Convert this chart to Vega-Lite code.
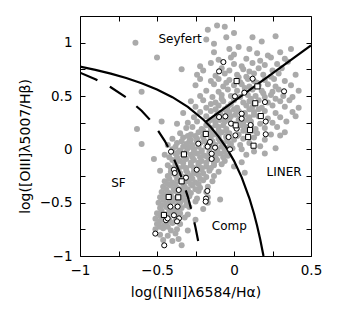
{
"$schema": "https://vega.github.io/schema/vega-lite/v6.json",
"width": 231, "height": 240,
"autosize": {"type": "none"},
"padding": {"left": 80, "top": 16, "right": 33, "bottom": 60},
"background": "white",
"config": {
  "view": {"stroke": null},
  "axis": {"domainColor": "black", "domainWidth": 1, "tickColor": "black", "tickWidth": 1, "labelColor": "black", "titleColor": "black", "labelFont": "DejaVu Sans", "titleFont": "DejaVu Sans", "labelFontSize": 13.5, "titleFontSize": 14, "titleFontWeight": "normal", "grid": false, "tickSize": -5, "labelFlush": false, "labelOverlap": false}
},
"datasets": {
"gray": [
{"x":-0.11,"y":1.16},{"x":-0.17,"y":1.12},{"x":-0.06,"y":1.15},{"x":0.0,"y":1.09},
{"x":-0.18,"y":1.03},{"x":-0.05,"y":1.05},{"x":0.12,"y":1.05},{"x":0.27,"y":1.06},
{"x":-0.64,"y":1.0},{"x":-0.13,"y":0.99},{"x":0.18,"y":1.01},
{"x":-0.03,"y":0.94},{"x":0.03,"y":0.96},{"x":0.1,"y":0.94},{"x":0.37,"y":0.94},
{"x":-0.13,"y":0.91},{"x":0.0,"y":0.89},{"x":0.15,"y":0.9},{"x":0.22,"y":0.88},{"x":0.3,"y":0.91},
{"x":-0.5,"y":0.86},{"x":-0.1,"y":0.84},{"x":-0.02,"y":0.86},{"x":0.08,"y":0.85},{"x":0.17,"y":0.83},{"x":0.24,"y":0.86},{"x":0.33,"y":0.85},
{"x":-0.22,"y":0.78},{"x":-0.15,"y":0.81},{"x":0.0,"y":0.8},{"x":0.05,"y":0.78},{"x":0.12,"y":0.81},{"x":0.2,"y":0.79},{"x":0.28,"y":0.8},{"x":0.35,"y":0.82},
{"x":-0.34,"y":0.75},{"x":-0.2,"y":0.74},{"x":-0.08,"y":0.76},{"x":-0.03,"y":0.74},{"x":0.06,"y":0.75},{"x":0.1,"y":0.73},{"x":0.16,"y":0.76},{"x":0.25,"y":0.74},{"x":0.31,"y":0.76},
{"x":-0.24,"y":0.7},{"x":-0.12,"y":0.69},{"x":-0.06,"y":0.71},{"x":0.02,"y":0.7},{"x":0.08,"y":0.68},{"x":0.13,"y":0.71},{"x":0.19,"y":0.7},{"x":0.24,"y":0.68},{"x":0.29,"y":0.71},{"x":0.4,"y":0.7},
{"x":-0.22,"y":0.66},{"x":-0.15,"y":0.64},{"x":-0.1,"y":0.66},{"x":-0.03,"y":0.65},{"x":0.04,"y":0.63},{"x":0.09,"y":0.66},{"x":0.13,"y":0.64},{"x":0.2,"y":0.65},{"x":0.26,"y":0.66},{"x":0.33,"y":0.64},
{"x":-0.25,"y":0.6},{"x":-0.13,"y":0.61},{"x":-0.07,"y":0.59},{"x":0.0,"y":0.6},{"x":0.05,"y":0.61},{"x":0.1,"y":0.59},{"x":0.16,"y":0.6},{"x":0.22,"y":0.61},{"x":0.27,"y":0.59},{"x":0.37,"y":0.6},
{"x":-0.6,"y":0.54},{"x":-0.18,"y":0.55},{"x":-0.1,"y":0.54},{"x":-0.04,"y":0.56},{"x":0.02,"y":0.55},{"x":0.07,"y":0.54},{"x":0.12,"y":0.56},{"x":0.18,"y":0.55},{"x":0.25,"y":0.54},{"x":0.29,"y":0.56},{"x":0.42,"y":0.55},
{"x":-0.22,"y":0.5},{"x":-0.14,"y":0.49},{"x":-0.08,"y":0.51},{"x":-0.02,"y":0.5},{"x":0.04,"y":0.49},{"x":0.09,"y":0.51},{"x":0.14,"y":0.5},{"x":0.2,"y":0.49},{"x":0.24,"y":0.51},{"x":0.32,"y":0.5},{"x":0.38,"y":0.49},
{"x":-0.28,"y":0.45},{"x":-0.2,"y":0.46},{"x":-0.12,"y":0.44},{"x":-0.07,"y":0.45},{"x":0.0,"y":0.46},{"x":0.06,"y":0.44},{"x":0.1,"y":0.45},{"x":0.16,"y":0.46},{"x":0.22,"y":0.44},{"x":0.3,"y":0.45},{"x":0.36,"y":0.46},
{"x":-0.25,"y":0.4},{"x":-0.18,"y":0.39},{"x":-0.1,"y":0.41},{"x":-0.04,"y":0.4},{"x":0.02,"y":0.39},{"x":0.08,"y":0.41},{"x":0.12,"y":0.4},{"x":0.18,"y":0.39},{"x":0.25,"y":0.41},{"x":0.33,"y":0.4},{"x":0.42,"y":0.39},
{"x":-0.33,"y":0.34},{"x":-0.22,"y":0.35},{"x":-0.15,"y":0.36},{"x":-0.09,"y":0.34},{"x":-0.03,"y":0.35},{"x":0.03,"y":0.36},{"x":0.07,"y":0.34},{"x":0.13,"y":0.35},{"x":0.2,"y":0.36},{"x":0.27,"y":0.34},{"x":0.38,"y":0.35},
{"x":-0.26,"y":0.3},{"x":-0.18,"y":0.31},{"x":-0.13,"y":0.29},{"x":-0.08,"y":0.3},{"x":-0.02,"y":0.31},{"x":0.04,"y":0.29},{"x":0.1,"y":0.3},{"x":0.16,"y":0.31},{"x":0.22,"y":0.29},{"x":0.3,"y":0.3},{"x":0.4,"y":0.31},
{"x":-0.47,"y":0.26},{"x":-0.37,"y":0.24},{"x":-0.3,"y":0.25},{"x":-0.24,"y":0.26},{"x":-0.17,"y":0.24},{"x":-0.12,"y":0.25},{"x":-0.06,"y":0.26},{"x":0.0,"y":0.24},{"x":0.06,"y":0.25},{"x":0.11,"y":0.26},{"x":0.17,"y":0.24},{"x":0.25,"y":0.25},{"x":0.34,"y":0.26},
{"x":-0.63,"y":0.19},{"x":-0.31,"y":0.2},{"x":-0.27,"y":0.21},{"x":-0.21,"y":0.19},{"x":-0.15,"y":0.2},{"x":-0.1,"y":0.21},{"x":-0.05,"y":0.19},{"x":0.02,"y":0.2},{"x":0.08,"y":0.21},{"x":0.14,"y":0.19},{"x":0.2,"y":0.2},{"x":0.28,"y":0.21},
{"x":-0.35,"y":0.15},{"x":-0.28,"y":0.14},{"x":-0.23,"y":0.16},{"x":-0.18,"y":0.15},{"x":-0.13,"y":0.14},{"x":-0.08,"y":0.16},{"x":-0.03,"y":0.15},{"x":0.03,"y":0.14},{"x":0.09,"y":0.16},{"x":0.15,"y":0.15},{"x":0.24,"y":0.14},{"x":0.33,"y":0.16},
{"x":-0.4,"y":0.1},{"x":-0.33,"y":0.11},{"x":-0.28,"y":0.09},{"x":-0.24,"y":0.1},{"x":-0.2,"y":0.11},{"x":-0.15,"y":0.09},{"x":-0.1,"y":0.1},{"x":-0.05,"y":0.11},{"x":0.0,"y":0.09},{"x":0.06,"y":0.1},{"x":0.13,"y":0.11},{"x":0.2,"y":0.09},{"x":0.3,"y":0.13},
{"x":-0.6,"y":0.05},{"x":-0.43,"y":0.04},{"x":-0.37,"y":0.06},{"x":-0.31,"y":0.05},{"x":-0.27,"y":0.04},{"x":-0.22,"y":0.06},{"x":-0.17,"y":0.05},{"x":-0.12,"y":0.04},{"x":-0.07,"y":0.06},{"x":-0.02,"y":0.05},{"x":0.04,"y":0.04},{"x":0.1,"y":0.06},{"x":0.17,"y":0.03},
{"x":-0.4,"y":0.0},{"x":-0.35,"y":-0.01},{"x":-0.3,"y":0.01},{"x":-0.26,"y":0.0},{"x":-0.21,"y":-0.01},{"x":-0.16,"y":0.01},{"x":-0.11,"y":0.0},{"x":-0.06,"y":-0.01},{"x":-0.01,"y":0.01},{"x":0.05,"y":0.0},{"x":0.13,"y":-0.02},{"x":0.27,"y":0.01},
{"x":-0.45,"y":-0.05},{"x":-0.38,"y":-0.04},{"x":-0.33,"y":-0.06},{"x":-0.28,"y":-0.05},{"x":-0.24,"y":-0.04},{"x":-0.19,"y":-0.06},{"x":-0.14,"y":-0.05},{"x":-0.09,"y":-0.04},{"x":-0.04,"y":-0.06},{"x":0.08,"y":-0.05},{"x":0.2,"y":-0.04},
{"x":-0.52,"y":-0.09},{"x":-0.4,"y":-0.1},{"x":-0.35,"y":-0.11},{"x":-0.31,"y":-0.09},{"x":-0.26,"y":-0.1},{"x":-0.21,"y":-0.11},{"x":-0.16,"y":-0.09},{"x":-0.11,"y":-0.1},{"x":-0.06,"y":-0.11},{"x":0.05,"y":-0.12},
{"x":-0.43,"y":-0.15},{"x":-0.38,"y":-0.14},{"x":-0.33,"y":-0.16},{"x":-0.28,"y":-0.15},{"x":-0.23,"y":-0.14},{"x":-0.18,"y":-0.16},{"x":-0.13,"y":-0.15},{"x":-0.08,"y":-0.14},{"x":0.0,"y":-0.16},
{"x":-0.48,"y":-0.2},{"x":-0.41,"y":-0.21},{"x":-0.36,"y":-0.19},{"x":-0.31,"y":-0.2},{"x":-0.26,"y":-0.21},{"x":-0.21,"y":-0.19},{"x":-0.16,"y":-0.2},{"x":-0.1,"y":-0.21},{"x":0.07,"y":-0.22},
{"x":-0.43,"y":-0.25},{"x":-0.38,"y":-0.24},{"x":-0.33,"y":-0.26},{"x":-0.28,"y":-0.25},{"x":-0.23,"y":-0.24},{"x":-0.18,"y":-0.26},{"x":-0.13,"y":-0.25},
{"x":-0.45,"y":-0.3},{"x":-0.4,"y":-0.31},{"x":-0.35,"y":-0.29},{"x":-0.3,"y":-0.3},{"x":-0.25,"y":-0.31},{"x":-0.2,"y":-0.29},{"x":-0.14,"y":-0.3},
{"x":-0.46,"y":-0.35},{"x":-0.41,"y":-0.34},{"x":-0.37,"y":-0.36},{"x":-0.32,"y":-0.35},{"x":-0.27,"y":-0.34},{"x":-0.22,"y":-0.36},{"x":-0.17,"y":-0.35},
{"x":-0.47,"y":-0.4},{"x":-0.42,"y":-0.41},{"x":-0.38,"y":-0.39},{"x":-0.33,"y":-0.4},{"x":-0.28,"y":-0.41},{"x":-0.23,"y":-0.39},{"x":-0.18,"y":-0.4},
{"x":-0.48,"y":-0.45},{"x":-0.43,"y":-0.44},{"x":-0.39,"y":-0.46},{"x":-0.34,"y":-0.45},{"x":-0.29,"y":-0.44},{"x":-0.24,"y":-0.46},{"x":-0.17,"y":-0.45},{"x":-0.09,"y":-0.47},
{"x":-0.49,"y":-0.5},{"x":-0.44,"y":-0.51},{"x":-0.4,"y":-0.49},{"x":-0.35,"y":-0.5},{"x":-0.3,"y":-0.51},{"x":-0.25,"y":-0.49},{"x":-0.17,"y":-0.5},
{"x":-0.48,"y":-0.55},{"x":-0.44,"y":-0.54},{"x":-0.39,"y":-0.56},{"x":-0.34,"y":-0.55},{"x":-0.29,"y":-0.54},{"x":-0.2,"y":-0.56},
{"x":-0.5,"y":-0.6},{"x":-0.45,"y":-0.61},{"x":-0.4,"y":-0.59},{"x":-0.35,"y":-0.6},{"x":-0.3,"y":-0.61},
{"x":-0.51,"y":-0.65},{"x":-0.47,"y":-0.64},{"x":-0.42,"y":-0.66},{"x":-0.37,"y":-0.65},{"x":-0.32,"y":-0.64},{"x":-0.25,"y":-0.66},
{"x":-0.5,"y":-0.7},{"x":-0.45,"y":-0.71},{"x":-0.4,"y":-0.69},{"x":-0.35,"y":-0.7},
{"x":-0.51,"y":-0.75},{"x":-0.46,"y":-0.74},{"x":-0.41,"y":-0.76},{"x":-0.37,"y":-0.75},{"x":-0.3,"y":-0.76},
{"x":-0.48,"y":-0.8},{"x":-0.43,"y":-0.81},{"x":-0.38,"y":-0.79},
{"x":-0.46,"y":-0.85},{"x":-0.4,"y":-0.86},{"x":-0.36,"y":-0.84},
{"x":-0.34,"y":-0.9},
{"x":-0.3,"y":0.125},{"x":-0.25,"y":0.125},{"x":-0.2,"y":0.125},{"x":-0.15,"y":0.125},{"x":-0.1,"y":0.125},{"x":-0.05,"y":0.125},{"x":0.02,"y":0.125},
{"x":-0.34,"y":0.075},{"x":-0.29,"y":0.075},{"x":-0.24,"y":0.075},{"x":-0.19,"y":0.075},{"x":-0.14,"y":0.075},{"x":-0.09,"y":0.075},{"x":-0.04,"y":0.075},
{"x":-0.38,"y":0.025},{"x":-0.33,"y":0.025},{"x":-0.28,"y":0.025},{"x":-0.23,"y":0.025},{"x":-0.18,"y":0.025},{"x":-0.13,"y":0.025},{"x":-0.08,"y":0.025},{"x":-0.03,"y":0.025},
{"x":-0.36,"y":-0.025},{"x":-0.31,"y":-0.025},{"x":-0.26,"y":-0.025},{"x":-0.21,"y":-0.025},{"x":-0.16,"y":-0.025},{"x":-0.11,"y":-0.025},{"x":-0.06,"y":-0.025},
{"x":-0.42,"y":-0.075},{"x":-0.37,"y":-0.075},{"x":-0.32,"y":-0.075},{"x":-0.27,"y":-0.075},{"x":-0.22,"y":-0.075},{"x":-0.17,"y":-0.075},{"x":-0.12,"y":-0.075},{"x":-0.07,"y":-0.075},
{"x":-0.38,"y":-0.125},{"x":-0.33,"y":-0.125},{"x":-0.28,"y":-0.125},{"x":-0.23,"y":-0.125},{"x":-0.18,"y":-0.125},{"x":-0.13,"y":-0.125},
{"x":-0.41,"y":-0.175},{"x":-0.36,"y":-0.175},{"x":-0.31,"y":-0.175},{"x":-0.26,"y":-0.175},{"x":-0.21,"y":-0.175},{"x":-0.15,"y":-0.175},
{"x":-0.4,"y":-0.225},{"x":-0.35,"y":-0.225},{"x":-0.3,"y":-0.225},{"x":-0.25,"y":-0.225},{"x":-0.2,"y":-0.225},
{"x":-0.42,"y":-0.275},{"x":-0.37,"y":-0.275},{"x":-0.32,"y":-0.275},{"x":-0.27,"y":-0.275},{"x":-0.22,"y":-0.275},
{"x":-0.43,"y":-0.325},{"x":-0.38,"y":-0.325},{"x":-0.33,"y":-0.325},{"x":-0.28,"y":-0.325},{"x":-0.23,"y":-0.325},
{"x":-0.44,"y":-0.375},{"x":-0.39,"y":-0.375},{"x":-0.35,"y":-0.375},{"x":-0.3,"y":-0.375},{"x":-0.25,"y":-0.375},
{"x":-0.45,"y":-0.425},{"x":-0.41,"y":-0.425},{"x":-0.36,"y":-0.425},{"x":-0.31,"y":-0.425},
{"x":-0.46,"y":-0.475},{"x":-0.42,"y":-0.475},{"x":-0.37,"y":-0.475},{"x":-0.32,"y":-0.475},
{"x":-0.47,"y":-0.525},{"x":-0.42,"y":-0.525},{"x":-0.37,"y":-0.525},{"x":-0.31,"y":-0.525},
{"x":-0.47,"y":-0.575},{"x":-0.42,"y":-0.575},{"x":-0.37,"y":-0.575},
{"x":-0.48,"y":-0.625},{"x":-0.43,"y":-0.625},{"x":-0.38,"y":-0.625},
{"x":-0.48,"y":-0.675},{"x":-0.43,"y":-0.675},{"x":-0.38,"y":-0.675},
{"x":-0.48,"y":-0.725},{"x":-0.43,"y":-0.725},
{"x":-0.15,"y":0.425},{"x":-0.02,"y":0.425},{"x":0.13,"y":0.425},
{"x":-0.12,"y":0.375},{"x":-0.06,"y":0.375},{"x":0.0,"y":0.375},{"x":0.1,"y":0.375},{"x":0.16,"y":0.375},
{"x":-0.11,"y":0.325},{"x":-0.05,"y":0.325},{"x":0.01,"y":0.325},{"x":0.07,"y":0.325},{"x":0.13,"y":0.325},
{"x":-0.15,"y":0.275},{"x":-0.09,"y":0.275},{"x":-0.03,"y":0.275},{"x":0.03,"y":0.275},{"x":0.09,"y":0.275},
{"x":-0.18,"y":0.225},{"x":-0.12,"y":0.225},{"x":-0.07,"y":0.225},{"x":0.05,"y":0.225},{"x":0.11,"y":0.225},
{"x":-0.2,"y":0.175},{"x":-0.15,"y":0.175},{"x":-0.1,"y":0.175},{"x":-0.05,"y":0.175},{"x":0.06,"y":0.175},{"x":0.12,"y":0.175},
{"x":-0.05,"y":0.625},{"x":0.07,"y":0.575},{"x":0.15,"y":0.625},{"x":0.03,"y":0.675},{"x":-0.08,"y":0.475},{"x":0.11,"y":0.475},{"x":0.27,"y":0.475},{"x":0.19,"y":0.525}
],
"mk": [
{"x":-0.069,"y":0.818,"t":"circle"},{"x":-0.097,"y":0.731,"t":"circle"},{"x":0.006,"y":0.497,"t":"circle"},{"x":0.121,"y":0.662,"t":"circle"},{"x":0.325,"y":0.544,"t":"circle"},{"x":0.201,"y":0.443,"t":"circle"},{"x":0.067,"y":0.531,"t":"circle"},
{"x":-0.097,"y":0.303,"t":"circle"},{"x":-0.056,"y":0.309,"t":"circle"},{"x":0.05,"y":0.334,"t":"circle"},{"x":0.05,"y":0.287,"t":"circle"},{"x":-0.019,"y":0.241,"t":"circle"},{"x":0.017,"y":0.194,"t":"circle"},{"x":0.108,"y":0.228,"t":"circle"},{"x":0.206,"y":0.26,"t":"circle"},{"x":0.206,"y":0.141,"t":"circle"},
{"x":-0.035,"y":0.115,"t":"circle"},{"x":0.009,"y":0.131,"t":"circle"},{"x":-0.026,"y":0.0,"t":"circle"},{"x":-0.123,"y":0.016,"t":"circle"},{"x":-0.164,"y":0.044,"t":"circle"},{"x":-0.156,"y":0.069,"t":"circle"},{"x":-0.232,"y":0.053,"t":"circle"},{"x":-0.171,"y":0.025,"t":"circle"},{"x":-0.145,"y":-0.041,"t":"circle"},{"x":-0.145,"y":-0.09,"t":"circle"},
{"x":-0.409,"y":-0.022,"t":"circle"},{"x":-0.242,"y":-0.191,"t":"circle"},{"x":-0.39,"y":-0.191,"t":"circle"},{"x":-0.385,"y":-0.222,"t":"circle"},{"x":-0.312,"y":-0.266,"t":"circle"},{"x":-0.359,"y":-0.381,"t":"circle"},{"x":-0.173,"y":-0.39,"t":"circle"},{"x":-0.182,"y":-0.462,"t":"circle"},{"x":-0.184,"y":-0.49,"t":"circle"},
{"x":-0.366,"y":-0.537,"t":"circle"},{"x":-0.413,"y":-0.537,"t":"circle"},{"x":-0.39,"y":-0.618,"t":"circle"},{"x":-0.357,"y":-0.647,"t":"circle"},{"x":-0.37,"y":-0.675,"t":"circle"},{"x":-0.442,"y":-0.665,"t":"circle"},{"x":-0.431,"y":-0.647,"t":"circle"},{"x":-0.511,"y":-0.79,"t":"circle"},{"x":-0.453,"y":-0.9,"t":"circle"},
{"x":0.017,"y":0.64,"t":"square"},{"x":0.152,"y":0.59,"t":"square"},{"x":0.138,"y":0.432,"t":"square"},{"x":0.174,"y":0.312,"t":"square"},{"x":0.011,"y":0.225,"t":"square"},{"x":0.104,"y":0.181,"t":"square"},{"x":0.092,"y":0.115,"t":"square"},{"x":0.127,"y":0.034,"t":"square"},{"x":-0.183,"y":0.144,"t":"square"},{"x":-0.325,"y":-0.047,"t":"square"},{"x":-0.34,"y":-0.3,"t":"square"},{"x":-0.424,"y":-0.447,"t":"square"},{"x":-0.362,"y":-0.45,"t":"square"},{"x":-0.455,"y":-0.615,"t":"square"}
],
"k01": [
{"x":-1.0,"y":0.775},{"x":-0.9,"y":0.7447},{"x":-0.8,"y":0.7097},{"x":-0.7,"y":0.6686},{"x":-0.6,"y":0.6199},{"x":-0.5,"y":0.5611},{"x":-0.4,"y":0.4889},{"x":-0.3,"y":0.3978},{"x":-0.2,"y":0.2796},{"x":-0.15,"y":0.2061},{"x":-0.1,"y":0.1198},{"x":-0.05,"y":0.0169},{"x":0.0,"y":-0.1079},{"x":0.05,"y":-0.2624},{"x":0.1,"y":-0.4586},{"x":0.13,"y":-0.6041},{"x":0.15,"y":-0.7163},{"x":0.17,"y":-0.8433},{"x":0.19,"y":-0.9886},{"x":0.1915,"y":-1.0}
],
"k03": [
{"x":-1.0,"y":0.719},{"x":-0.9,"y":0.6579},{"x":-0.8,"y":0.5824},{"x":-0.7,"y":0.4867},{"x":-0.6,"y":0.3615},{"x":-0.55,"y":0.2833},{"x":-0.5,"y":0.1909},{"x":-0.45,"y":0.08},{"x":-0.4,"y":-0.0556},{"x":-0.35,"y":-0.225},{"x":-0.3,"y":-0.4429},{"x":-0.27,"y":-0.6063},{"x":-0.25,"y":-0.7333},{"x":-0.23,"y":-0.8786}
],
"k06": [
{"x":-0.184,"y":0.257},{"x":0.5,"y":0.975}
],
"lab": [
{"x":-0.35,"y":1.03,"text":"Seyfert"},{"x":-0.75,"y":-0.32,"text":"SF"},{"x":0.325,"y":-0.215,"text":"LINER"},{"x":-0.03,"y":-0.72,"text":"Comp"}
]
},
"resolve": {"axis": {"x": "independent", "y": "independent"}},
"layer": [
{
 "data": {"name": "gray"},
 "mark": {"type": "circle", "size": 36, "color": "#aaaaaa", "opacity": 1, "clip": true},
 "encoding": {
  "x": {"field": "x", "type": "quantitative", "scale": {"domain": [-1, 0.5], "nice": false, "zero": false},
        "axis": {"orient": "bottom", "values": [-1, -0.75, -0.5, -0.25, 0, 0.25, 0.5], "format": ".2~f",
                 "labelExpr": "abs(datum.value*2 - round(datum.value*2)) < 0.001 ? datum.label : ''",
                 "labelPadding": 12, "title": "log([NII]λ6584/Hα)", "titleX": 115.5, "titleY": 36, "titleBaseline": "middle", "titleAnchor": "middle"}},
  "y": {"field": "y", "type": "quantitative", "scale": {"domain": [-1, 1.25], "nice": false, "zero": false},
        "axis": {"orient": "left", "values": [-1, -0.75, -0.5, -0.25, 0, 0.25, 0.5, 0.75, 1], "format": ".2~f",
                 "labelExpr": "abs(datum.value*2 - round(datum.value*2)) < 0.001 ? datum.label : ''",
                 "labelPadding": 13, "title": "log([OIII]λ5007/Hβ)", "titleX": -55, "titleY": 130, "titleBaseline": "middle", "titleAnchor": "middle"}}
 }
},
{
 "data": {"name": "k01"},
 "mark": {"type": "line", "color": "black", "strokeWidth": 2.2, "clip": true},
 "encoding": {
  "x": {"field": "x", "type": "quantitative", "scale": {"domain": [-1, 0.5], "nice": false, "zero": false}, "axis": null},
  "y": {"field": "y", "type": "quantitative", "scale": {"domain": [-1, 1.25], "nice": false, "zero": false}, "axis": null}
 }
},
{
 "data": {"name": "k03"},
 "mark": {"type": "line", "color": "black", "strokeWidth": 2.2, "strokeDash": [19, 14], "clip": true},
 "encoding": {
  "x": {"field": "x", "type": "quantitative", "scale": {"domain": [-1, 0.5], "nice": false, "zero": false}, "axis": null},
  "y": {"field": "y", "type": "quantitative", "scale": {"domain": [-1, 1.25], "nice": false, "zero": false}, "axis": null}
 }
},
{
 "data": {"name": "k06"},
 "mark": {"type": "line", "color": "black", "strokeWidth": 2.2, "clip": true},
 "encoding": {
  "x": {"field": "x", "type": "quantitative", "scale": {"domain": [-1, 0.5], "nice": false, "zero": false}, "axis": null},
  "y": {"field": "y", "type": "quantitative", "scale": {"domain": [-1, 1.25], "nice": false, "zero": false}, "axis": null}
 }
},
{
 "data": {"name": "mk"},
 "mark": {"type": "point", "size": 26, "filled": false, "fill": "white", "stroke": "black", "strokeWidth": 1, "opacity": 1, "clip": true},
 "encoding": {
  "x": {"field": "x", "type": "quantitative", "scale": {"domain": [-1, 0.5], "nice": false, "zero": false}, "axis": null},
  "y": {"field": "y", "type": "quantitative", "scale": {"domain": [-1, 1.25], "nice": false, "zero": false}, "axis": null},
  "shape": {"field": "t", "type": "nominal", "scale": {"domain": ["circle", "square"], "range": ["circle", "square"]}, "legend": null}
 }
},
{
 "data": {"name": "lab"},
 "mark": {"type": "text", "font": "DejaVu Sans", "fontSize": 12, "color": "black", "align": "center", "baseline": "middle"},
 "encoding": {
  "x": {"field": "x", "type": "quantitative", "scale": {"domain": [-1, 0.5], "nice": false, "zero": false},
        "axis": {"orient": "top", "values": [-1, -0.75, -0.5, -0.25, 0, 0.25, 0.5], "labels": false, "title": null}},
  "y": {"field": "y", "type": "quantitative", "scale": {"domain": [-1, 1.25], "nice": false, "zero": false},
        "axis": {"orient": "right", "values": [-1, -0.75, -0.5, -0.25, 0, 0.25, 0.5, 0.75, 1], "labels": false, "title": null}},
  "text": {"field": "text", "type": "nominal"}
 }
}
]
}
